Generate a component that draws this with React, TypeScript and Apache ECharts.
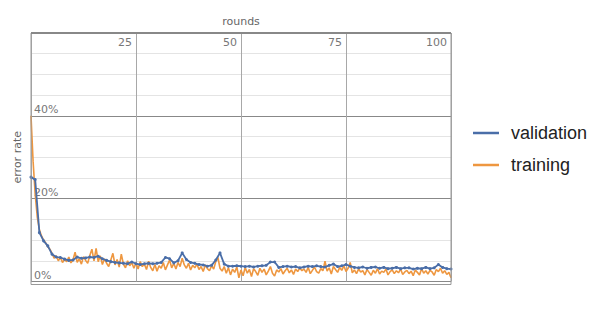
import React, { useEffect, useRef } from "react";
import * as echarts from "echarts";

const xTicks = [0, 25, 50, 75, 100];
const yTicks = [0, 20, 40, 60];

// validation error rate (%) per round 0..100
const validation = [
  25.2, 24.6, 11.8, 9.8, 8.6, 6.6, 5.9, 5.8, 5.4, 5.1,
  5.2, 5.9, 5.6, 5.7, 5.9, 5.8, 6.1, 5.5, 5.1, 4.8,
  4.6, 4.5, 4.4, 4.3, 4.7, 4.3, 4.1, 4.3, 4.4, 4.3,
  4.4, 4.6, 5.8, 5.5, 4.5, 5.0, 6.9, 5.3, 4.6, 4.4,
  4.1, 4.0, 3.7, 3.9, 5.2, 6.9, 4.2, 3.7, 3.7, 3.8,
  3.7, 3.6, 3.7, 3.5, 3.7, 3.8, 3.9, 4.7, 4.7, 3.4,
  3.6, 3.7, 3.5, 3.6, 3.3, 3.5, 3.7, 3.6, 3.8, 3.6,
  3.5, 3.9, 4.2, 3.6, 3.8, 4.1, 3.7, 3.4, 3.3, 3.5,
  3.2, 3.4, 3.5, 3.2, 3.4, 3.1, 3.2, 3.4, 3.1, 3.3,
  3.3, 3.0, 3.2, 3.1, 3.4, 3.1, 3.3, 4.1, 3.4, 3.1,
  3.0,
];

// training error rate (%) every half round 0..100
const training = [
  40, 29, 21, 15.5, 12.5, 11, 10, 9.3, 8.4, 7.8,
  6.8, 5.6, 6.2, 5.0, 5.8, 4.6, 5.4, 4.8, 5.9, 4.5,
  5.2, 7.1, 4.6, 5.5, 4.2, 6.0, 5.1, 4.4, 6.3, 7.8,
  5.0, 8.0, 4.8, 6.2, 4.1, 5.5, 4.4, 3.6, 5.2, 6.8,
  4.0, 5.3, 3.5, 6.6, 4.2, 3.3, 5.0, 3.8, 4.6, 3.2,
  4.5, 3.0, 4.8, 3.6, 4.2, 2.9, 4.9, 3.4, 2.6, 4.1,
  2.5, 3.8, 3.2, 4.6, 2.8, 4.0, 5.2, 3.3, 4.4, 3.0,
  4.6, 3.6, 5.6, 4.0, 3.2, 4.4, 2.8, 3.9, 3.3, 4.2,
  2.9, 3.6, 2.4, 4.0, 3.1, 2.6, 3.8, 3.0, 4.8, 5.8,
  3.2, 2.5, 3.6, 2.0, 3.3, 1.6, 3.0, 2.2, 3.5, 0.9,
  2.8, 1.4, 3.4, 2.0, 2.9, 1.2, 3.1, 2.4, 1.5, 3.2,
  2.2, 3.0, 1.6, 2.5, 3.6, 2.0, 1.3, 2.8, 2.3, 3.1,
  1.8, 2.6, 3.2, 2.1, 2.8, 1.7, 3.0, 2.4, 3.3, 2.6,
  3.0, 2.2, 3.4, 1.9, 2.7, 3.5, 2.4, 2.0, 3.1, 2.6,
  4.9, 2.5, 3.3, 1.8, 3.6, 2.9, 2.2, 3.4, 2.7, 3.8,
  2.4, 3.2, 4.6, 2.1, 2.8, 1.9, 3.0, 2.3, 2.6, 1.6,
  2.9, 2.2, 1.5, 2.7, 2.0, 3.1, 1.8, 2.5, 2.2, 3.0,
  1.6, 2.4, 2.8, 1.9, 2.6, 2.1, 3.0, 1.7, 2.3, 2.7,
  1.9, 2.5, 1.4, 2.8, 2.2, 1.6, 3.1, 2.0, 2.6, 1.8,
  2.7, 2.3, 1.5, 2.9, 2.4, 3.2, 2.0, 2.6, 1.7, 2.2,
  0.9,
];

const validationStep = 1;
const trainingStep = 0.5;

export default function App() {
  const ref = useRef<HTMLDivElement>(null);
  useEffect(() => {
    if (!ref.current) return;
    const chart = echarts.init(ref.current, undefined, { renderer: "svg" });
    const axisFont = "DejaVu Sans";
    const xMin = xTicks[0];
    const xMax = xTicks[xTicks.length - 1];
    const yMin = yTicks[0];
    const yMax = yTicks[yTicks.length - 1];
    chart.setOption({
      animation: false,
      backgroundColor: "#fff",
      grid: { left: 31, right: 138, top: 33, bottom: 32.5, show: false },
      graphic: [
        {
          type: "rect",
          shape: { x: 31, y: 33, width: 420, height: 251.5 },
          style: { fill: "none", stroke: "#999", lineWidth: 1 },
          z: 10,
        },
        {
          type: "line",
          shape: { x1: 31, y1: 33, x2: 451, y2: 33 },
          style: { stroke: "#888", lineWidth: 2 },
          z: 10,
        },
      ],
      legend: {
        orient: "vertical",
        left: 473,
        top: 124,
        padding: 0,
        itemWidth: 26,
        itemHeight: 2.5,
        itemGap: 14,
        icon: "rect",
        data: ["validation", "training"],
        textStyle: {
          fontFamily: "Liberation Sans",
          fontSize: 18,
          color: "#222",
          padding: [0, 0, 0, 7],
          width: 80,
          overflow: "none",
        },
      },
      xAxis: {
        type: "value",
        position: "top",
        min: xMin,
        max: xMax,
        interval: 25,
        name: "rounds",
        nameLocation: "middle",
        nameGap: 6,
        nameTextStyle: { fontFamily: axisFont, fontSize: 11, color: "#666" },
        axisLine: { show: false },
        axisTick: { show: false },
        axisLabel: {
          inside: true,
          margin: 4,
          align: "right",
          verticalAlign: "top",
          padding: [0, 4, 0, 0],
          fontFamily: axisFont,
          fontSize: 11,
          color: "#777",
          formatter: (v: number) => (v === 0 ? "" : String(v)),
        },
        splitLine: { show: true, lineStyle: { color: "#a8a8a8", width: 1 } },
      },
      yAxis: {
        type: "value",
        min: yMin,
        max: yMax,
        interval: 20,
        name: "error rate",
        nameLocation: "middle",
        nameGap: 8,
        nameTextStyle: { fontFamily: axisFont, fontSize: 11, color: "#666" },
        axisLine: { show: false },
        axisTick: { show: false },
        axisLabel: {
          inside: true,
          margin: 3,
          align: "left",
          verticalAlign: "bottom",
          padding: [0, 0, 1, 0],
          fontFamily: axisFont,
          fontSize: 11,
          color: "#777",
          formatter: (v: number) => (v === 60 ? "" : v + "%"),
        },
        splitLine: { show: true, lineStyle: { color: "#888", width: 1 } },
        minorTick: { show: false, splitNumber: 4 },
        minorSplitLine: { show: true, lineStyle: { color: "#e4e4e4", width: 1 } },
      },
      series: [
        {
          name: "training",
          type: "line",
          data: training.map((v, i) => [i * trainingStep, v]),
          showSymbol: false,
          symbol: "none",
          lineStyle: { color: "#ee9740", width: 1.6 },
          itemStyle: { color: "#ee9740" },
          z: 2,
        },
        {
          name: "validation",
          type: "line",
          data: validation.map((v, i) => [i * validationStep, v]),
          symbol: "circle",
          symbolSize: 3,
          showSymbol: true,
          lineStyle: { color: "#4a6ea8", width: 1.8 },
          itemStyle: { color: "#4a6ea8" },
          z: 3,
        },
      ],
    });
    return () => chart.dispose();
  }, []);
  return <div ref={ref} style={{ width: 589, height: 314, position: "absolute", left: 0, top: 0 }} />;
}
